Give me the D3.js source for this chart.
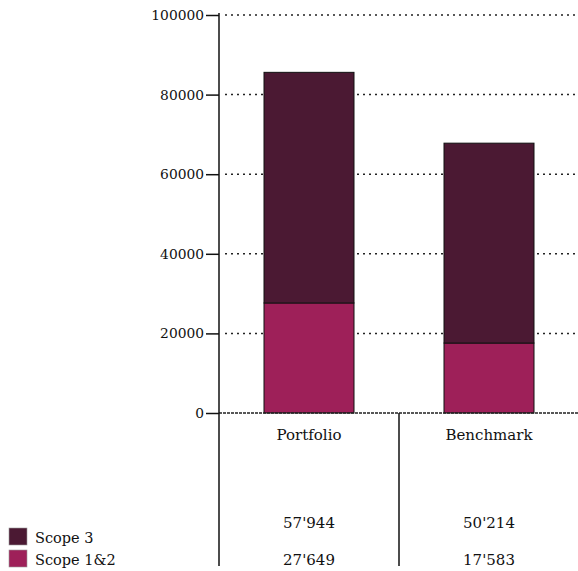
<!DOCTYPE html>
<html>
<head>
<meta charset="utf-8">
<script src="https://cdn.jsdelivr.net/npm/d3@7"></script>
<style>
  body { margin: 0; background: #fff; }
  text { font-family: "DejaVu Serif", serif; fill: #111; }
</style>
</head>
<body>
<svg id="chart" width="578" height="571"></svg>
<script>
const categories = ["Portfolio", "Benchmark"];
const scope12 = [27649, 17583];
const scope3 = [57944, 50214];
const seriesNames = ["Scope 3", "Scope 1&2"];
const yTicks = [0, 20000, 40000, 60000, 80000, 100000];

const colors = { "Scope 3": "#4b1933", "Scope 1&2": "#9e2059" };

const svg = d3.select("#chart");
const mLeft = 219, mRight = 579, mTop = 15, mBottom = 413;

const x = d3.scaleBand().domain(categories).range([mLeft, mRight]).paddingInner(0).paddingOuter(0);
const y = d3.scaleLinear().domain([0, 100000]).range([mBottom, mTop]);

const rows = categories.map((c, i) => ({ cat: c, "Scope 1&2": scope12[i], "Scope 3": scope3[i] }));
const stacked = d3.stack().keys(["Scope 1&2", "Scope 3"])(rows);

// gridlines
svg.append("g").selectAll("line")
  .data(yTicks.filter(d => d > 0))
  .join("line")
  .attr("x1", mLeft + 6).attr("x2", 578)
  .attr("y1", d => y(d)).attr("y2", d => y(d))
  .attr("stroke", "#222").attr("stroke-width", 1.5)
  .attr("stroke-dasharray", "2,4");

// bars
svg.append("g").selectAll("g")
  .data(stacked)
  .join("g")
  .attr("fill", d => colors[d.key])
  .selectAll("rect")
  .data(d => d)
  .join("rect")
  .attr("x", d => x(d.data.cat) + x.bandwidth() / 4)
  .attr("width", x.bandwidth() / 2)
  .attr("y", d => y(d[1]))
  .attr("height", d => y(d[0]) - y(d[1]))
  .attr("stroke", "#111").attr("stroke-width", 1);

// baseline
svg.append("line")
  .attr("x1", mLeft).attr("x2", 578)
  .attr("y1", y(0)).attr("y2", y(0))
  .attr("stroke", "#222").attr("stroke-width", 1.5)
  .attr("stroke-dasharray", "3,1");

// y axis
const yAxis = svg.append("g")
  .attr("transform", `translate(${mLeft},0)`)
  .call(d3.axisLeft(y).tickValues(yTicks).tickFormat(d3.format("d")).tickSize(13).tickPadding(2));
yAxis.select(".domain").remove();
yAxis.selectAll(".tick line").attr("stroke", "#111").attr("stroke-width", 1.5);
yAxis.selectAll(".tick text").style("font-family", "DejaVu Serif").style("font-size", "13.8px").attr("fill", "#111");

// vertical axis/divider lines
svg.append("line").attr("x1", mLeft).attr("x2", mLeft).attr("y1", mTop - 2).attr("y2", 566)
  .attr("stroke", "#111").attr("stroke-width", 1.5);
svg.append("line").attr("x1", x("Benchmark")).attr("x2", x("Benchmark")).attr("y1", mBottom).attr("y2", 566)
  .attr("stroke", "#111").attr("stroke-width", 1.5);

// category labels
const fmt = v => d3.format(",")(v).replace(/,/g, "'");
svg.append("g").selectAll("text")
  .data(categories)
  .join("text")
  .attr("x", d => x(d) + x.bandwidth() / 2)
  .attr("y", 440)
  .attr("text-anchor", "middle")
  .style("font-size", "15px")
  .text(d => d);

// value rows
svg.append("g").selectAll("text")
  .data(categories)
  .join("text")
  .attr("x", d => x(d) + x.bandwidth() / 2)
  .attr("y", 528)
  .attr("text-anchor", "middle")
  .style("font-size", "15px")
  .text((d, i) => fmt(scope3[i]));
svg.append("g").selectAll("text")
  .data(categories)
  .join("text")
  .attr("x", d => x(d) + x.bandwidth() / 2)
  .attr("y", 565)
  .attr("text-anchor", "middle")
  .style("font-size", "15px")
  .text((d, i) => fmt(scope12[i]));

// legend
const legend = svg.append("g").selectAll("g")
  .data(seriesNames)
  .join("g")
  .attr("transform", (d, i) => `translate(9,${528 + i * 22})`);
legend.append("rect")
  .attr("width", 18).attr("height", 17)
  .attr("fill", d => colors[d])
  .attr("stroke", "#999").attr("stroke-width", 0.6);
legend.append("text")
  .attr("x", 26).attr("y", 15)
  .style("font-size", "14.5px")
  .text(d => d);
</script>
</body>
</html>
